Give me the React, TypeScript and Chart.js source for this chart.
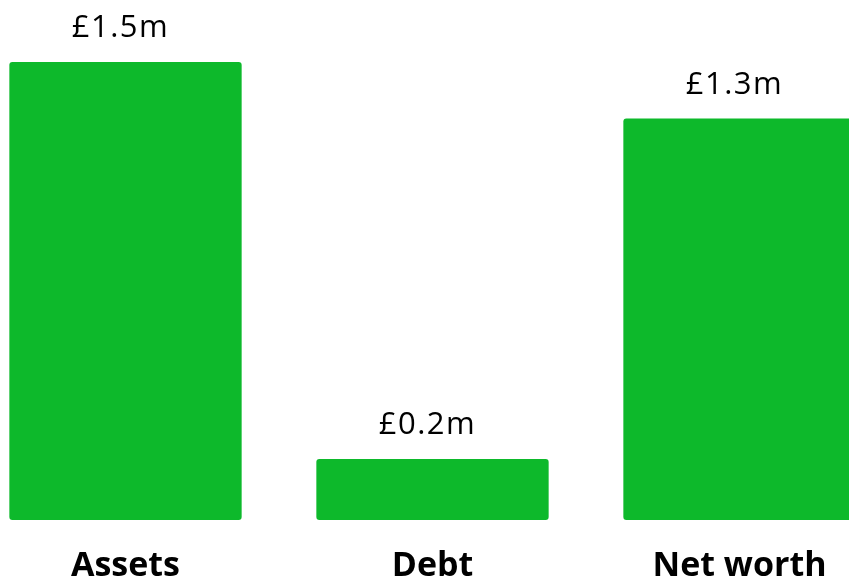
import React, { useEffect, useRef } from "react";
import { Chart, registerables } from "chart.js";

Chart.register(...registerables);

const categories = ["Assets", "Debt", "Net worth"];
const values = [1.5, 0.2, 1.315];
const valueLabels = ["£1.5m", "£0.2m", "£1.3m"];

const GREEN = "#0db92b";
const FONT = "'Open Sans', 'DejaVu Sans', sans-serif";

const labelPlugin = {
  id: "barLabels",
  afterDatasetsDraw(chart: any) {
    const ctx = chart.ctx;
    const meta = chart.getDatasetMeta(0);
    ctx.save();
    ctx.fillStyle = "#000";
    ctx.textAlign = "center";
    ctx.textBaseline = "alphabetic";
    meta.data.forEach((bar: any, i: number) => {
      ctx.font = `400 31px ${FONT}`;
      (ctx as any).letterSpacing = "1.5px";
      ctx.fillText(valueLabels[i], bar.x - 5, bar.y - 25);
      (ctx as any).letterSpacing = "0px";
      ctx.font = `700 34px ${FONT}`;
      ctx.fillText(categories[i], bar.x, chart.chartArea.bottom + 56);
    });
    ctx.restore();
  },
};

export default function App() {
  const ref = useRef<HTMLCanvasElement | null>(null);
  useEffect(() => {
    if (!ref.current) return;
    const chart = new Chart(ref.current, {
      type: "bar",
      data: {
        labels: categories,
        datasets: [
          {
            data: values,
            backgroundColor: GREEN,
            borderRadius: 3,
            borderSkipped: false,
            categoryPercentage: 1,
            barPercentage: 0.7567,
          },
        ],
      },
      options: {
        responsive: false,
        animation: false,
        devicePixelRatio: 1,
        layout: { padding: { top: 1, bottom: 61, left: 0, right: 0 } },
        plugins: { legend: { display: false }, tooltip: { enabled: false } },
        scales: {
          x: { display: false, offset: true },
          y: { display: false, min: 0, max: 1.7 },
        },
      },
      plugins: [labelPlugin],
    });
    return () => chart.destroy();
  }, []);
  return (
    <div
      style={{
        position: "absolute",
        left: 0,
        top: 0,
        width: 849,
        height: 581,
        overflow: "hidden",
        background: "#fff",
      }}
    >
      <canvas
        ref={ref}
        width={921}
        height={581}
        style={{ position: "absolute", left: -28, top: 0, width: 921, height: 581 }}
      />
    </div>
  );
}
